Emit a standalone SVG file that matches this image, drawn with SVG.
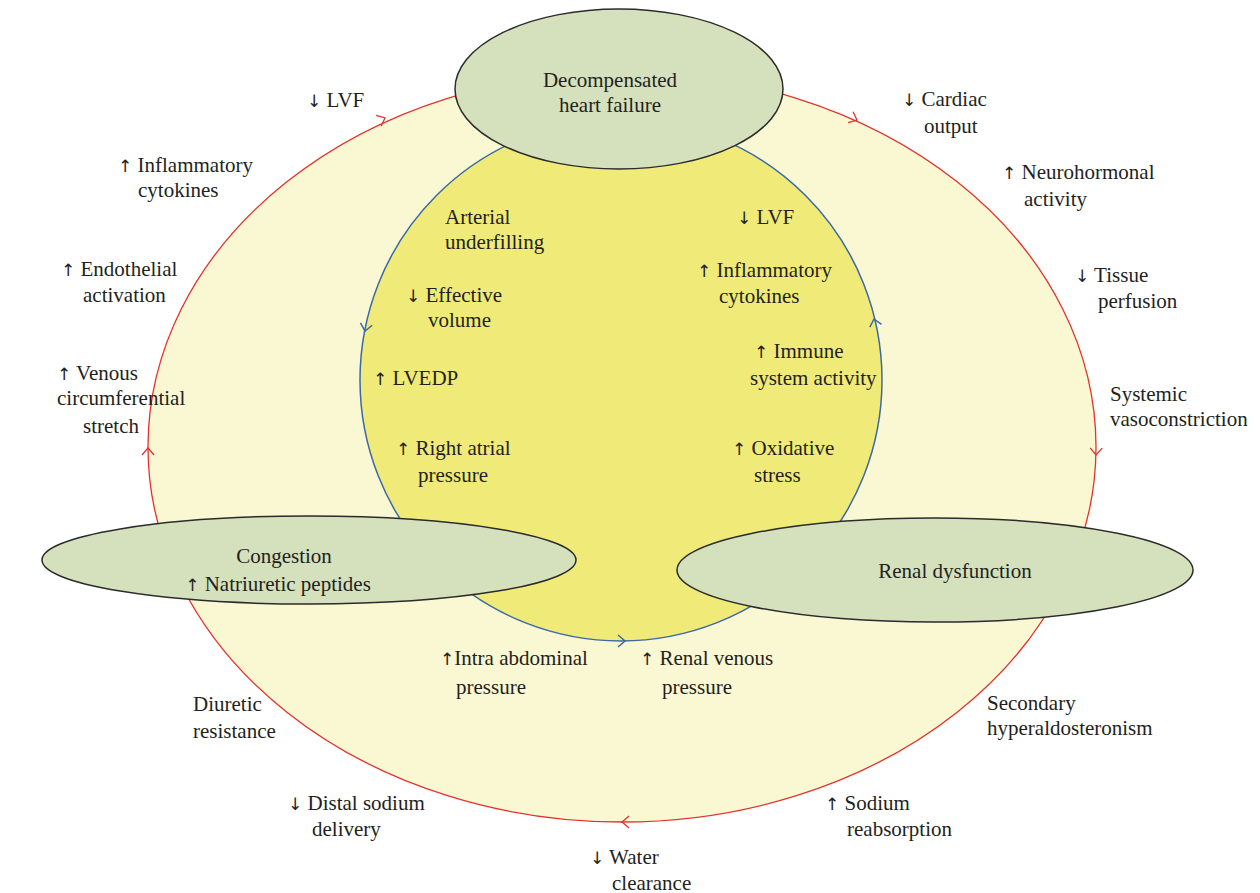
<svg xmlns="http://www.w3.org/2000/svg" width="1260" height="893" viewBox="0 0 1260 893">
<style>
text{font-family:"Liberation Serif","Times New Roman",serif;font-size:21px;fill:#231f20}
.c{text-anchor:middle}
.ar{font-family:"DejaVu Sans",sans-serif;font-size:17px}
.node{fill:#d5e0bd;stroke:#2b2b2b;stroke-width:1.5}
.red{fill:none;stroke:#e4322b;stroke-width:1.3}
.blue{fill:none;stroke:#3b68a7;stroke-width:1.5}
</style>
<defs>
<path id="chev" d="M-7,-6 L0,0 L-7,6" fill="none"/>
</defs>
<rect width="1260" height="893" fill="#ffffff"/>
<g id="connectors">
<ellipse cx="622" cy="447" rx="474" ry="375" fill="#faf7d3" stroke="#e4322b" stroke-width="1.3"/>
<circle cx="621" cy="380" r="261" fill="#f0eb78" stroke="#3b68a7" stroke-width="1.5"/>
<g class="red">
<use href="#chev" transform="translate(385,118) rotate(-24.3)"/>
<use href="#chev" transform="translate(857,120) rotate(24.2)"/>
<use href="#chev" transform="translate(1096,455) rotate(91.5)"/>
<use href="#chev" transform="translate(622,822) rotate(180)"/>
<use href="#chev" transform="translate(148,448) rotate(-90)"/>
</g>
<g class="blue">
<use href="#chev" transform="translate(365,331) rotate(101)"/>
<use href="#chev" transform="translate(874,319) rotate(-103.6)"/>
<use href="#chev" transform="translate(625,641) rotate(0)"/>
</g>
</g>
<g id="node-dhf">
<ellipse class="node" cx="619" cy="89" rx="164" ry="80"/>
<text class="c" x="610" y="87">Decompensated</text>
<text class="c" x="610" y="112">heart failure</text>
</g>
<g id="node-congestion">
<ellipse class="node" cx="309" cy="560" rx="267" ry="44"/>
<text class="c" x="284" y="563">Congestion</text>
<text class="c" x="278" y="591"><tspan class="ar">↑</tspan> Natriuretic peptides</text>
</g>
<g id="node-renal">
<ellipse class="node" cx="935" cy="570" rx="258" ry="52"/>
<text class="c" x="955" y="578">Renal dysfunction</text>
</g>
<g id="labels-outer">
<text x="307" y="107"><tspan class="ar">↓</tspan> LVF</text>
<text x="118" y="172"><tspan class="ar">↑</tspan> Inflammatory</text>
<text x="138" y="197">cytokines</text>
<text x="61" y="276"><tspan class="ar">↑</tspan> Endothelial</text>
<text x="83" y="302">activation</text>
<text x="57" y="380"><tspan class="ar">↑</tspan> Venous</text>
<text x="57" y="405">circumferential</text>
<text x="83" y="433">stretch</text>
<text x="902" y="106"><tspan class="ar">↓</tspan> Cardiac</text>
<text x="924" y="133">output</text>
<text x="1002" y="179"><tspan class="ar">↑</tspan> Neurohormonal</text>
<text x="1024" y="206">activity</text>
<text x="1075" y="282"><tspan class="ar">↓</tspan> Tissue</text>
<text x="1098" y="308">perfusion</text>
<text x="1110" y="401">Systemic</text>
<text x="1110" y="426">vasoconstriction</text>
<text x="987" y="710">Secondary</text>
<text x="987" y="735">hyperaldosteronism</text>
<text x="825" y="810"><tspan class="ar">↑</tspan> Sodium</text>
<text x="847" y="836">reabsorption</text>
<text x="590" y="864"><tspan class="ar">↓</tspan> Water</text>
<text x="612" y="890">clearance</text>
<text x="288" y="810"><tspan class="ar">↓</tspan> Distal sodium</text>
<text x="312" y="836">delivery</text>
<text x="193" y="711">Diuretic</text>
<text x="193" y="738">resistance</text>
<text x="440" y="665"><tspan class="ar">↑</tspan>Intra abdominal</text>
<text x="456" y="694">pressure</text>
<text x="640" y="665"><tspan class="ar">↑</tspan> Renal venous</text>
<text x="662" y="694">pressure</text>
</g>
<g id="labels-inner">
<text x="445" y="224">Arterial</text>
<text x="445" y="249">underfilling</text>
<text x="406" y="302"><tspan class="ar">↓</tspan> Effective</text>
<text x="428" y="327">volume</text>
<text x="373" y="385"><tspan class="ar">↑</tspan> LVEDP</text>
<text x="396" y="455"><tspan class="ar">↑</tspan> Right atrial</text>
<text x="418" y="482">pressure</text>
<text x="737" y="224"><tspan class="ar">↓</tspan> LVF</text>
<text x="697" y="277"><tspan class="ar">↑</tspan> Inflammatory</text>
<text x="719" y="303">cytokines</text>
<text x="754" y="358"><tspan class="ar">↑</tspan> Immune</text>
<text x="750" y="385">system activity</text>
<text x="732" y="455"><tspan class="ar">↑</tspan> Oxidative</text>
<text x="754" y="482">stress</text>
</g>
</svg>
